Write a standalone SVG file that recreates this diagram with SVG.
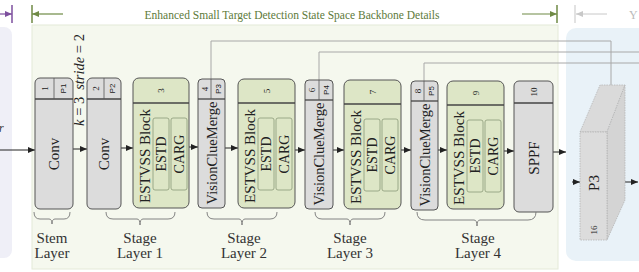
<svg xmlns="http://www.w3.org/2000/svg" width="639" height="272" viewBox="0 0 639 272">
<defs>
<style>
.t{font-family:"Liberation Serif","Times New Roman",serif;fill:#222}
.s{font-family:"Liberation Sans",Arial,sans-serif;fill:#222}
.gray{fill:#dcdcdc;stroke:#555;stroke-width:1}
.green{fill:#dde6c6;stroke:#555;stroke-width:1}
.inner{fill:#dde6c6;stroke:#8c9a78;stroke-width:0.8}
.hl{stroke:#444;stroke-width:1.3}
.arr{stroke:#222;stroke-width:1;fill:none;marker-end:url(#ah)}
.con{stroke:#a8a8a8;stroke-width:1;fill:none}
.brace{stroke:#777;stroke-width:0.9;fill:none}
.lbl{font-family:"Liberation Serif","Times New Roman",serif;font-size:15px;fill:#333;text-anchor:middle}
</style>
<marker id="ah" markerWidth="7" markerHeight="6" refX="7" refY="3" orient="auto" markerUnits="userSpaceOnUse"><path d="M0,0 L7,3 L0,6 z" fill="#222"/></marker>
<marker id="ahg" markerWidth="7" markerHeight="6" refX="7" refY="3" orient="auto" markerUnits="userSpaceOnUse"><path d="M0,0 L7,3 L0,6 z" fill="#6f8a45"/></marker>
<marker id="ahp" markerWidth="7" markerHeight="6" refX="7" refY="3" orient="auto" markerUnits="userSpaceOnUse"><path d="M0,0 L7,3 L0,6 z" fill="#7d4f9e"/></marker>
<marker id="ahl" markerWidth="7" markerHeight="6" refX="7" refY="3" orient="auto" markerUnits="userSpaceOnUse"><path d="M0,0 L7,3 L0,6 z" fill="#c8c8c8"/></marker>
</defs>
<rect width="639" height="272" fill="#ffffff"/>
<!-- panels -->
<rect x="-10" y="27" width="22" height="231" rx="8" fill="#efeff7"/>
<rect x="32" y="25" width="526" height="244" fill="#f5f8ee" stroke="#e4ead8" stroke-width="1"/>
<rect x="566" y="28" width="90" height="233" rx="10" fill="#e9f2f8"/>
<!-- top annotations -->
<line x1="0" y1="14" x2="12" y2="14" stroke="#7d4f9e" stroke-width="1.2" marker-end="url(#ahp)"/>
<line x1="12" y1="5" x2="12" y2="23" stroke="#7d4f9e" stroke-width="1.5"/>
<line x1="32" y1="5" x2="32" y2="23" stroke="#6f8a45" stroke-width="1.5"/>
<line x1="63" y1="14" x2="32" y2="14" stroke="#6f8a45" stroke-width="1.2" marker-end="url(#ahg)"/>
<text x="292" y="18.5" text-anchor="middle" style="font-family:'Liberation Serif','Times New Roman',serif;font-size:11.5px;fill:#5d7a3a">Enhanced Small Target Detection State Space Backbone Details</text>
<line x1="522" y1="14" x2="557" y2="14" stroke="#6f8a45" stroke-width="1.2" marker-end="url(#ahg)"/>
<line x1="557" y1="5" x2="557" y2="23" stroke="#6f8a45" stroke-width="1.5"/>
<line x1="575" y1="5" x2="575" y2="23" stroke="#cfcfcf" stroke-width="1.2"/>
<line x1="607" y1="14" x2="576" y2="14" stroke="#c8c8c8" stroke-width="1" marker-end="url(#ahl)"/>
<text x="629" y="19" style="font-family:'Liberation Serif',serif;font-size:12px;fill:#bbb">Y</text>
<text x="-1" y="132" style="font-family:'Liberation Serif',serif;font-size:12px;font-style:italic;fill:#333">r</text>
<!-- k stride -->
<text class="t" transform="translate(84,80) rotate(-90)" text-anchor="middle" style="font-size:14.5px"><tspan font-style="italic">k</tspan> = 3<tspan dx="7" font-style="italic">stride</tspan> = 2</text>
<!-- connectors -->
<g id="connectors">
<path class="con" d="M211,79 V41 H611 V85"/>
<path class="con" d="M319,80 V52 H639"/>
<path class="con" d="M424,81 V63 H639"/>
<line class="arr" x1="0" y1="150" x2="35" y2="150"/>
<line class="arr" x1="73" y1="149" x2="87" y2="149"/>
<line class="arr" x1="121" y1="148" x2="133" y2="148"/>
<line class="arr" x1="189" y1="147" x2="198" y2="147"/>
<line class="arr" x1="225" y1="148" x2="238" y2="148"/>
<line class="arr" x1="295" y1="150" x2="305" y2="150"/>
<line class="arr" x1="333" y1="150" x2="344" y2="150"/>
<line class="arr" x1="401" y1="150" x2="411" y2="150"/>
<line class="arr" x1="438" y1="150" x2="447" y2="150"/>
<line class="arr" x1="504" y1="151" x2="514" y2="151"/>
<line class="arr" x1="553" y1="152" x2="566" y2="152"/>
<line class="arr" x1="572" y1="182" x2="580" y2="182"/>
<line class="arr" x1="623" y1="182" x2="638" y2="182"/>
</g>
<!-- node 1 -->
<g id="node1">
<rect class="gray" x="35" y="78" width="38" height="131" rx="5"/>
<line class="hl" x1="35" y1="99" x2="73" y2="99"/>
<line stroke="#555" stroke-width="0.8" x1="54" y1="78" x2="54" y2="99"/>
<text class="t" transform="translate(44.5,88.5) rotate(-90)" text-anchor="middle" dominant-baseline="central" style="font-size:9px">1</text>
<text class="s" transform="translate(63.5,88.5) rotate(-90)" text-anchor="middle" dominant-baseline="central" style="font-size:8px">P1</text>
<text class="t" transform="translate(54,154) rotate(-90)" text-anchor="middle" dominant-baseline="central" style="font-size:15px">Conv</text>
</g>
<g id="node2">
<rect class="gray" x="87" y="78" width="34" height="131" rx="5"/>
<line class="hl" x1="87" y1="99" x2="121" y2="99"/>
<line stroke="#555" stroke-width="0.8" x1="104" y1="78" x2="104" y2="99"/>
<text class="t" transform="translate(95.5,88.5) rotate(-90)" text-anchor="middle" dominant-baseline="central" style="font-size:9px">2</text>
<text class="s" transform="translate(112.5,88.5) rotate(-90)" text-anchor="middle" dominant-baseline="central" style="font-size:8px">P2</text>
<text class="t" transform="translate(104,154) rotate(-90)" text-anchor="middle" dominant-baseline="central" style="font-size:15px">Conv</text>
</g>
<g id="node3">
<rect class="green" x="133" y="78" width="56" height="130" rx="6"/>
<line class="hl" x1="133" y1="103" x2="189" y2="103"/>
<text class="t" transform="translate(161,90.5) rotate(-90)" text-anchor="middle" dominant-baseline="central" style="font-size:9px">3</text>
<text class="t" transform="translate(145,156) rotate(-90)" text-anchor="middle" dominant-baseline="central" style="font-size:15px">ESTVSS Block</text>
<rect class="inner" x="153" y="118" width="16" height="72" rx="2"/>
<rect class="inner" x="171" y="118" width="16" height="72" rx="2"/>
<text class="t" transform="translate(161,154) rotate(-90)" text-anchor="middle" dominant-baseline="central" style="font-size:14px">ESTD</text>
<text class="t" transform="translate(179,154) rotate(-90)" text-anchor="middle" dominant-baseline="central" style="font-size:14px">CARG</text>
</g>
<g id="node4">
<rect class="gray" x="198" y="79" width="27" height="129" rx="4"/>
<line class="hl" x1="198" y1="99" x2="225" y2="99"/>
<line stroke="#555" stroke-width="0.8" x1="211" y1="79" x2="211" y2="99"/>
<text class="t" transform="translate(204.5,89) rotate(-90)" text-anchor="middle" dominant-baseline="central" style="font-size:9px">4</text>
<text class="s" transform="translate(218,89) rotate(-90)" text-anchor="middle" dominant-baseline="central" style="font-size:8px">P3</text>
<text class="t" transform="translate(211.5,153) rotate(-90)" text-anchor="middle" dominant-baseline="central" style="font-size:14.5px">VisionClueMerge</text>
</g>
<g id="node5">
<rect class="green" x="238" y="79" width="57" height="129" rx="6"/>
<line class="hl" x1="238" y1="103" x2="295" y2="103"/>
<text class="t" transform="translate(266.5,91) rotate(-90)" text-anchor="middle" dominant-baseline="central" style="font-size:9px">5</text>
<text class="t" transform="translate(250,156) rotate(-90)" text-anchor="middle" dominant-baseline="central" style="font-size:15px">ESTVSS Block</text>
<rect class="inner" x="258" y="118" width="16" height="72" rx="2"/>
<rect class="inner" x="276" y="118" width="16" height="72" rx="2"/>
<text class="t" transform="translate(266,154) rotate(-90)" text-anchor="middle" dominant-baseline="central" style="font-size:14px">ESTD</text>
<text class="t" transform="translate(284,154) rotate(-90)" text-anchor="middle" dominant-baseline="central" style="font-size:14px">CARG</text>
</g>
<g id="node6">
<rect class="gray" x="305" y="80" width="28" height="129" rx="4"/>
<line class="hl" x1="305" y1="100" x2="333" y2="100"/>
<line stroke="#555" stroke-width="0.8" x1="319" y1="80" x2="319" y2="100"/>
<text class="t" transform="translate(312,90) rotate(-90)" text-anchor="middle" dominant-baseline="central" style="font-size:9px">6</text>
<text class="s" transform="translate(326,90) rotate(-90)" text-anchor="middle" dominant-baseline="central" style="font-size:8px">P4</text>
<text class="t" transform="translate(319,154) rotate(-90)" text-anchor="middle" dominant-baseline="central" style="font-size:14.5px">VisionClueMerge</text>
</g>
<g id="node7">
<rect class="green" x="344" y="80" width="57" height="129" rx="6"/>
<line class="hl" x1="344" y1="104" x2="401" y2="104"/>
<text class="t" transform="translate(372.5,92) rotate(-90)" text-anchor="middle" dominant-baseline="central" style="font-size:9px">7</text>
<text class="t" transform="translate(356,157) rotate(-90)" text-anchor="middle" dominant-baseline="central" style="font-size:15px">ESTVSS Block</text>
<rect class="inner" x="364" y="119" width="16" height="72" rx="2"/>
<rect class="inner" x="382" y="119" width="16" height="72" rx="2"/>
<text class="t" transform="translate(372,155) rotate(-90)" text-anchor="middle" dominant-baseline="central" style="font-size:14px">ESTD</text>
<text class="t" transform="translate(390,155) rotate(-90)" text-anchor="middle" dominant-baseline="central" style="font-size:14px">CARG</text>
</g>
<g id="node8">
<rect class="gray" x="411" y="81" width="27" height="129" rx="4"/>
<line class="hl" x1="411" y1="101" x2="438" y2="101"/>
<line stroke="#555" stroke-width="0.8" x1="424" y1="81" x2="424" y2="101"/>
<text class="t" transform="translate(417.5,91) rotate(-90)" text-anchor="middle" dominant-baseline="central" style="font-size:9px">8</text>
<text class="s" transform="translate(431,91) rotate(-90)" text-anchor="middle" dominant-baseline="central" style="font-size:8px">P5</text>
<text class="t" transform="translate(424.5,155) rotate(-90)" text-anchor="middle" dominant-baseline="central" style="font-size:14.5px">VisionClueMerge</text>
</g>
<g id="node9">
<rect class="green" x="447" y="81" width="57" height="128" rx="6"/>
<line class="hl" x1="447" y1="105" x2="504" y2="105"/>
<text class="t" transform="translate(475.5,93) rotate(-90)" text-anchor="middle" dominant-baseline="central" style="font-size:9px">9</text>
<text class="t" transform="translate(459,158) rotate(-90)" text-anchor="middle" dominant-baseline="central" style="font-size:15px">ESTVSS Block</text>
<rect class="inner" x="467" y="120" width="16" height="72" rx="2"/>
<rect class="inner" x="485" y="120" width="16" height="72" rx="2"/>
<text class="t" transform="translate(475,156) rotate(-90)" text-anchor="middle" dominant-baseline="central" style="font-size:14px">ESTD</text>
<text class="t" transform="translate(493,156) rotate(-90)" text-anchor="middle" dominant-baseline="central" style="font-size:14px">CARG</text>
</g>
<g id="node10">
<rect class="gray" x="514" y="81" width="39" height="131" rx="5"/>
<line class="hl" x1="514" y1="103" x2="553" y2="103"/>
<text class="t" transform="translate(533.5,92) rotate(-90)" text-anchor="middle" dominant-baseline="central" style="font-size:9px">10</text>
<text class="t" transform="translate(533.5,158) rotate(-90)" text-anchor="middle" dominant-baseline="central" style="font-size:15px">SPPF</text>
</g>
<g id="nodeP3">
<polygon points="580,132 600,85 625,85 607,132" fill="#dadada" stroke="#b0b0b0" stroke-width="0.7" stroke-dasharray="1.5,1"/>
<polygon points="607,132 625,85 625,200 607,240" fill="#d4d4d4" stroke="#b0b0b0" stroke-width="0.7" stroke-dasharray="1.5,1"/>
<rect x="580" y="132" width="27" height="108" fill="#dcdcdc" stroke="#b0b0b0" stroke-width="0.7" stroke-dasharray="1.5,1"/>
<text class="t" transform="translate(594,183) rotate(-90)" text-anchor="middle" dominant-baseline="central" style="font-size:15px">P3</text>
<text class="t" transform="translate(594,230) rotate(-90)" text-anchor="middle" dominant-baseline="central" style="font-size:9px">16</text>
</g>
<!-- braces and stage labels -->
<g id="stem">
<path class="brace" d="M34,212 Q34,219 40,219 L49,219 Q52,219 52,224 Q52,219 55,219 L64,219 Q70,219 70,212"/>
<text class="lbl" x="52" y="243">Stem</text>
<text class="lbl" x="52" y="258">Layer</text>
</g>
<g id="stage1">
<path class="brace" d="M106,212 Q106,219 113,219 L137,219 Q140,219 140,225 Q140,219 143,219 L168,219 Q175,219 175,212"/>
<text class="lbl" x="140" y="243">Stage</text>
<text class="lbl" x="140" y="258">Layer 1</text>
</g>
<g id="stage2">
<path class="brace" d="M207,212 Q207,219 214,219 L239,219 Q242,219 242,225 Q242,219 245,219 L270,219 Q277,219 277,212"/>
<text class="lbl" x="244" y="243">Stage</text>
<text class="lbl" x="244" y="258">Layer 2</text>
</g>
<g id="stage3">
<path class="brace" d="M315,212 Q315,219 322,219 L347,219 Q350,219 350,225 Q350,219 353,219 L378,219 Q385,219 385,212"/>
<text class="lbl" x="350" y="243">Stage</text>
<text class="lbl" x="350" y="258">Layer 3</text>
</g>
<g id="stage4">
<path class="brace" d="M417,212 Q417,220 425,220 L474,220 Q477,220 477,226 Q477,220 480,220 L528,220 Q536,220 536,212"/>
<text class="lbl" x="478" y="243">Stage</text>
<text class="lbl" x="478" y="258">Layer 4</text>
</g>
</svg>
